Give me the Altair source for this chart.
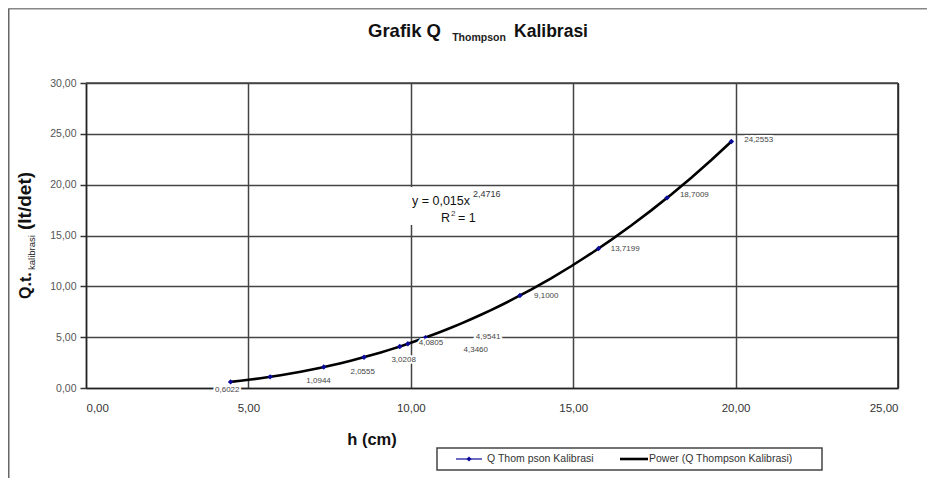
import altair as alt
import pandas as pd

# ---- data ----
h_cm = [4.45, 5.67, 7.32, 8.56, 9.66, 9.91, 10.45, 13.36, 15.78, 17.89, 19.87]
q_lt = [0.6022, 1.0944, 2.0555, 3.0208, 4.0805, 4.3460, 4.9541, 9.1000, 13.7199, 18.7009, 24.2553]
label_txt = ["0,6022", "1,0944", "2,0555", "3,0208", "4,0805", "4,3460", "4,9541",
             "9,1000", "13,7199", "18,7009", "24,2553"]
# where the data labels sit (data units)
label_h = [4.35, 7.16, 8.52, 9.78, 10.62, 12.0, 12.38, 14.17, 16.6, 18.73, 20.71]
label_q = [-0.2, 0.69, 1.58, 2.76, 4.44, 3.75, 5.03, 9.08, 13.72, 18.95, 24.38]

x_ticks = [0, 5, 10, 15, 20, 25]
y_ticks = [0, 5, 10, 15, 20, 25, 30]

FONT = "Liberation Sans"
W, H = 812, 305

pts = pd.DataFrame({"h": h_cm, "q": q_lt})
lbl = pd.DataFrame({"h": label_h, "q": label_q, "t": label_txt})
dummy = alt.Data(values=[{}])

fmt = "replace(format(datum.value, '.2f'), '.', ',')"

xs = alt.Scale(domain=[0, 25], nice=False)
ys = alt.Scale(domain=[0, 30], nice=False)

x_axis = alt.Axis(values=x_ticks, labelExpr=fmt, title=None, tickSize=0, labelPadding=14,
                  labelFont=FONT, labelFontSize=11.5, labelColor="#333",
                  grid=True, gridColor="#444", gridWidth=1.5,
                  domainColor="#222", domainWidth=1.5)
y_axis = alt.Axis(values=y_ticks, labelExpr=fmt, title=None, tickSize=6, labelPadding=4,
                  labelFont=FONT, labelFontSize=10.5, labelColor="#555",
                  tickColor="#333", tickWidth=1.5,
                  grid=True, gridColor="#444", gridWidth=1.5,
                  domainColor="#222", domainWidth=1.5)

base = alt.Chart(pts)

trend = base.transform_regression("h", "q", method="pow").mark_line(
    color="black", strokeWidth=2.6).encode(
    x=alt.X("h:Q", scale=xs, axis=x_axis),
    y=alt.Y("q:Q", scale=ys, axis=y_axis),
)

points = base.mark_point(shape="diamond", filled=True, color="#0a0a9a", size=30, opacity=1).encode(
    x=alt.X("h:Q", scale=xs),
    y=alt.Y("q:Q", scale=ys),
)

halo = alt.Chart(lbl).mark_text(font=FONT, fontSize=8, color="white", stroke="white",
                                strokeWidth=4, align="center", baseline="middle").encode(
    x=alt.X("h:Q", scale=xs), y=alt.Y("q:Q", scale=ys), text="t:N")
labels = alt.Chart(lbl).mark_text(font=FONT, fontSize=8, color="#444",
                                  align="center", baseline="middle").encode(
    x=alt.X("h:Q", scale=xs), y=alt.Y("q:Q", scale=ys), text="t:N")


def txt(s, x, y, size, bold=False, angle=0, align="left", color="#111", baseline="alphabetic"):
    kw = dict(font=FONT, fontSize=size, color=color, align=align, baseline=baseline, text=s)
    if bold:
        kw["fontWeight"] = "bold"
    if angle:
        kw["angle"] = angle
    return alt.Chart(dummy).mark_text(**kw).encode(x=alt.value(x), y=alt.value(y))


def rect(x, y, x2, y2, fill="white", stroke=None, sw=1.0):
    kw = dict(fill=fill)
    if stroke:
        kw["stroke"] = stroke
        kw["strokeWidth"] = sw
    return alt.Chart(dummy).mark_rect(**kw).encode(
        x=alt.value(x), y=alt.value(y), x2=alt.value(x2), y2=alt.value(y2))


def rule(x, y, x2, y2, color="#777", sw=2.0):
    return alt.Chart(dummy).mark_rule(color=color, strokeWidth=sw).encode(
        x=alt.value(x), y=alt.value(y), x2=alt.value(x2), y2=alt.value(y2))


# page -> plot coordinates: subtract (86, 83)
ox, oy = 86, 83

title_parts = [
    txt("Grafik Q", 368 - ox, 37 - oy, 18.5, bold=True),
    txt("Thompson", 479 - ox, 41 - oy, 10.5, bold=True, color="#222", align="center"),
    txt("Kalibrasi", 588 - ox, 37 - oy, 17.5, bold=True, align="right"),
]

ytitle = [
    txt("Q.t.", 31 - ox, 299 - oy, 16, bold=True, angle=270),
    txt("kalibrasi", 35 - ox, 270 - oy, 9.5, angle=270, color="#222"),
    txt("(lt/det)", 31 - ox, 230 - oy, 19, bold=True, angle=270),
]

xtitle = [txt("h (cm)", 372 - ox, 445 - oy, 16.5, bold=True, align="center")]

eq = [
    rect(406 - ox, 187 - oy, 512 - ox, 225 - oy),
    txt("y = 0,015x", 412 - ox, 205 - oy, 12.5),
    txt("2,4716", 473 - ox, 197 - oy, 9, color="#333"),
    txt("R", 441 - ox, 222 - oy, 12.5),
    txt("2", 451 - ox, 215.5 - oy, 8, color="#333"),
    txt("= 1", 458 - ox, 222 - oy, 12.5),
]

legend = [
    rect(437 - ox, 448 - oy, 822 - ox, 470 - oy, fill="white", stroke="#444", sw=1.5),
    rule(456 - ox, 459 - oy, 482 - ox, 459 - oy, color="#0a0a9a", sw=1.2),
    alt.Chart(dummy).mark_point(shape="diamond", filled=True, color="#0a0a9a", size=26, opacity=1).encode(
        x=alt.value(469 - ox), y=alt.value(459 - oy)),
    txt("Q Thom pson  Kalibrasi", 487 - ox, 459 - oy, 10.5, color="#333", baseline="middle"),
    rule(620 - ox, 459 - oy, 648 - ox, 459 - oy, color="black", sw=2.6),
    txt("Power (Q  Thompson  Kalibrasi)", 649 - ox, 459 - oy, 10.5, color="#333", baseline="middle"),
]

frame = [
    rule(-77.5, -74.5, 935 - ox, -74.5, color="#888", sw=2),
    rule(-77.5, -74.5, -77.5, 486 - oy, color="#666", sw=2),
    rule(W, 0, W, H, color="#222", sw=1.5),
    rule(0, 0, W, 0, color="#444", sw=1.5),
]

chart = alt.layer(
    trend, points, halo, labels, *eq, *title_parts, *ytitle, *xtitle, *legend, *frame
).properties(
    width=W, height=H,
    autosize=alt.AutoSizeParams(type="none"),
    padding={"left": 78, "top": 75, "right": 29, "bottom": 90},
    background="white",
).configure_view(stroke=None)

chart.save("out.html", embed_options={"renderer": "svg", "actions": False})
